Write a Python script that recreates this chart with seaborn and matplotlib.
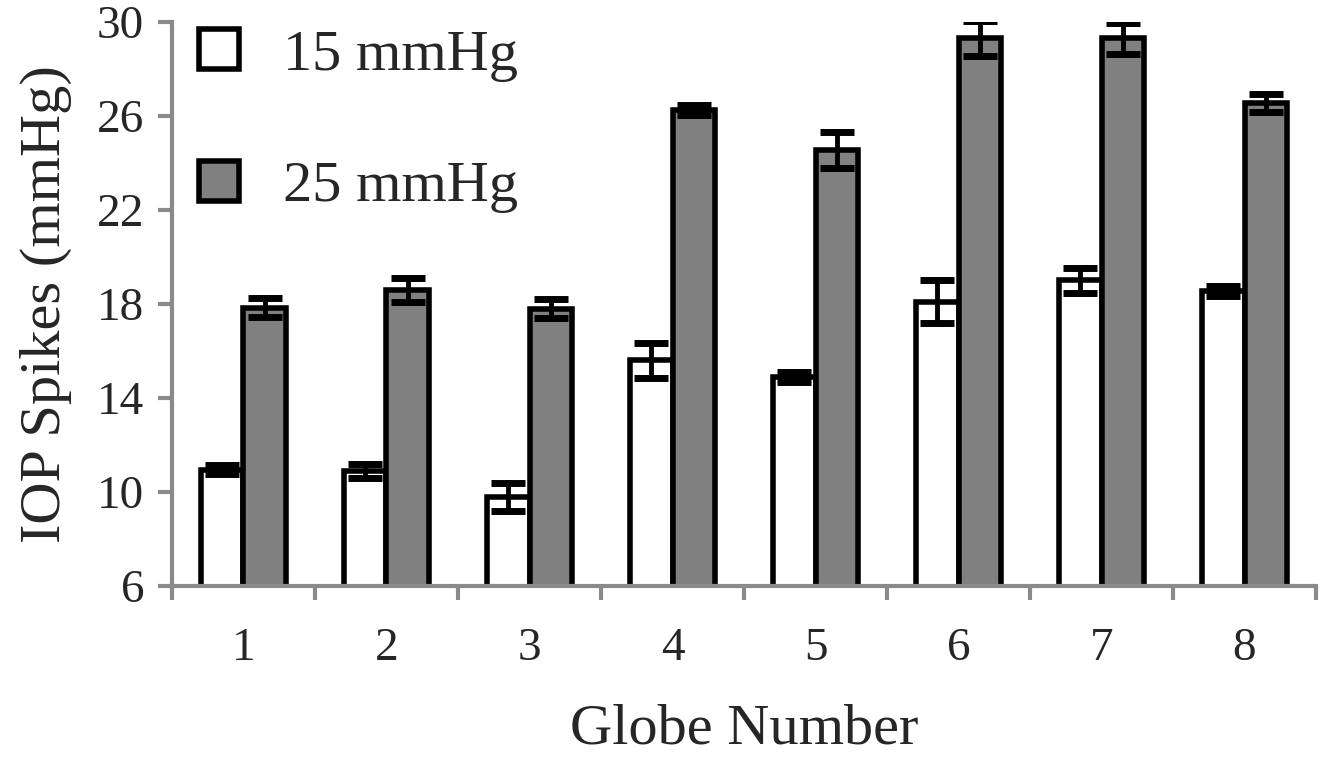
import numpy as np
import pandas as pd
import seaborn as sns
import matplotlib.pyplot as plt
from matplotlib.patches import Patch

# globe numbers and IOP spike means / errors
globes = ['1', '2', '3', '4', '5', '6', '7', '8']
iop_15 = [10.95, 10.9, 9.8, 15.6, 14.9, 18.1, 19.0, 18.55]
err_15 = [0.2, 0.3, 0.6, 0.75, 0.2, 0.9, 0.55, 0.2]
iop_25 = [17.85, 18.6, 17.8, 26.25, 24.55, 29.3, 29.3, 26.55]
err_25 = [0.4, 0.5, 0.4, 0.2, 0.75, 0.75, 0.65, 0.4]
groups = ['15 mmHg', '25 mmHg']

df = pd.DataFrame({
    'Globe': globes * 2,
    'IOP': iop_15 + iop_25,
    'err': err_15 + err_25,
    'Pressure': [groups[0]] * 8 + [groups[1]] * 8,
})

sns.set_style('white')
plt.rcParams['font.family'] = ['Liberation Serif', 'DejaVu Serif']

fig = plt.figure(figsize=(13.26, 7.58), dpi=100)
ax = fig.add_axes([0.1297, 0.2269, 0.8628, 0.7441])

gray = '#808080'
sns.barplot(data=df, x='Globe', y='IOP', hue='Pressure', order=globes,
            hue_order=groups, palette=['white', gray], width=0.6,
            edgecolor='black', linewidth=4, errorbar=None, legend=False, ax=ax)

#error bars at each bar's center
for cont, errs in zip(ax.containers, [err_15, err_25]):
    for bar, e in zip(cont, errs):
        xc = bar.get_x() + bar.get_width() / 2
        ax.errorbar(xc, bar.get_height(), yerr=e, color='black', elinewidth=3.5,
                    capsize=12, capthick=5, zorder=5)

ax.set_ylim(6, 30)
ax.set_xlim(-0.5, 7.5)
ax.set_yticks(np.arange(6, 31, 4))
ax.set_xticks(range(8))
ax.set_xticklabels(globes)
ax.set_xticks(np.arange(-0.5, 8, 1), minor=True)

for s in ['top', 'right']:
    ax.spines[s].set_visible(False)
for s in ['left', 'bottom']:
    ax.spines[s].set_color('#8a8a8a')
    ax.spines[s].set_linewidth(3)

ax.tick_params(axis='y', which='major', direction='out', length=10, width=3,
               color='#8a8a8a', labelsize=34, pad=10, left=True)
ax.tick_params(axis='x', which='major', length=0, labelsize=34, pad=30)
ax.tick_params(axis='x', which='minor', direction='out', length=10, width=3,
               color='#8a8a8a', bottom=True)

ax.set_xlabel('Globe Number', fontsize=42, labelpad=24)
ax.set_ylabel('IOP Spikes (mmHg)', fontsize=42, labelpad=18)

handles = [Patch(facecolor='white', edgecolor='black', linewidth=4),
           Patch(facecolor=gray, edgecolor='black', linewidth=4)]
ax.legend(handles, groups, loc='upper left', bbox_to_anchor=(-0.022, 1.08),
          frameon=False, fontsize=42, handlelength=0.68, handleheight=0.68,
          handletextpad=0.75, labelspacing=1.35)

fig.savefig('out.png', dpi=100)
